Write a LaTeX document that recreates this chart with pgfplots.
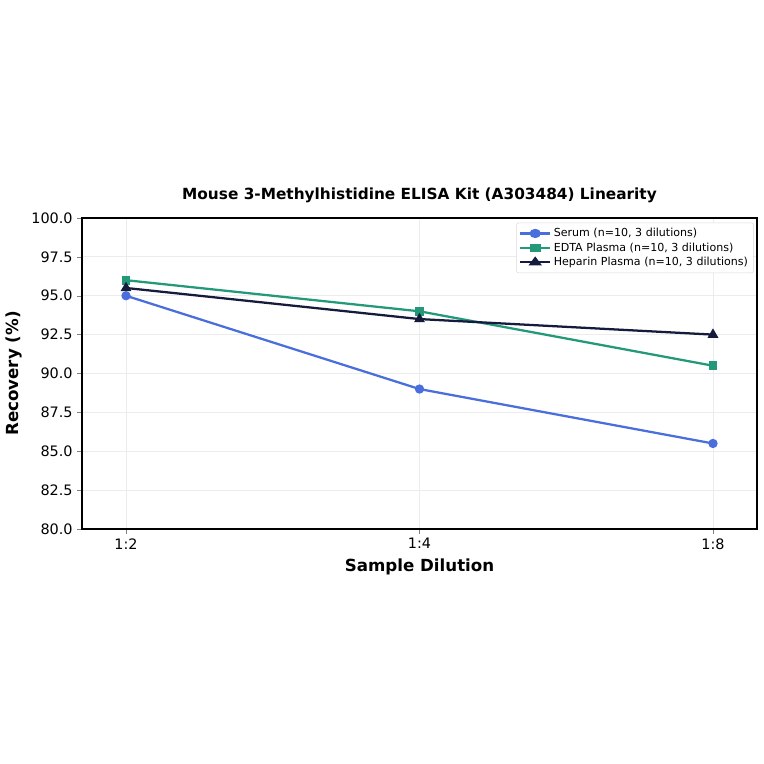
\documentclass[border=0pt]{standalone}
\usepackage{fontspec}
\setmainfont{DejaVu Sans}
\usepackage{pgfplots}
\pgfplotsset{compat=1.18}
\definecolor{serum}{HTML}{4A6FDC}
\definecolor{edta}{HTML}{23997A}
\definecolor{heparin}{HTML}{141B3D}
\begin{document}
\begin{tikzpicture}
\useasboundingbox (0,0) rectangle (573pt,573pt);
\begin{axis}[
    at={(61.5pt,176.25pt)}, anchor=south west,
    scale only axis,
    width=506.25pt, height=233.25pt,
    xmin=-0.15, xmax=2.15,
    ymin=80, ymax=100,
    xtick={0,1,2}, xticklabels={1:2,1:4,1:8},
    ytick={80,82.5,...,100},
    yticklabel style={/pgf/number format/.cd,fixed,fixed zerofill,precision=1},
    /pgf/number format/assume math mode=true,
    tick label style={font=\fontsize{10.8}{12}\selectfont},
    tick align=outside, tick pos=left,
    major tick length=3.5pt,
    grid=major,
    grid style={gray!15, line width=0.6pt},
    axis line style={line width=0.8pt},
    title={\bfseries Mouse 3-Methylhistidine ELISA Kit (A303484) Linearity},
    title style={font=\fontsize{11.5}{13}\selectfont, yshift=2pt},
    xlabel={\bfseries Sample Dilution},
    ylabel={\bfseries Recovery (\%)},
    label style={font=\fontsize{12.5}{14}\selectfont},
    legend style={at={(0.995,0.985)}, anchor=north east,
      font=\fontsize{8.3}{9.8}\selectfont, draw=gray!30, rounded corners=1.5pt,
      row sep=-1pt, inner sep=2pt},
    legend cell align=left,
    legend image post style={xscale=1.3},
    every axis plot/.append style={line width=1.7pt},
]
\addplot[serum, mark=*, mark size=2.6pt] coordinates {(0,95.0) (1,89.0) (2,85.5)};
\addplot[edta, mark=square*, mark size=2.4pt] coordinates {(0,96.0) (1,94.0) (2,90.5)};
\addplot[heparin, mark=triangle*, mark size=3pt] coordinates {(0,95.5) (1,93.5) (2,92.5)};
\legend{{Serum (n=10, 3 dilutions)}, {EDTA Plasma (n=10, 3 dilutions)}, {Heparin Plasma (n=10, 3 dilutions)}}
\end{axis}
\end{tikzpicture}
\end{document}
